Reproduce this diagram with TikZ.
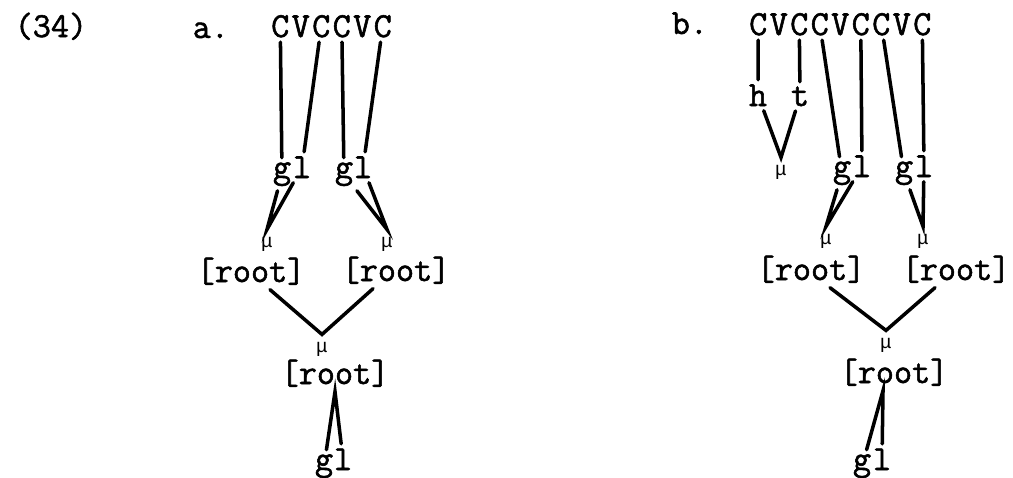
\documentclass[tikz,border=0pt]{standalone}
\usepackage{fontspec}
\newfontfamily\twfont[FakeBold=1.6]{Latin Modern Mono}
\newfontfamily\mufont{Liberation Mono}
\usetikzlibrary{positioning}
\begin{document}
\begin{tikzpicture}[x=0.02cm, y=-0.02cm,
  seg/.style={inner sep=2.5pt, anchor=base, font=\twfont\fontsize{20}{22}\selectfont},
  mora/.style={inner sep=4pt, anchor=base, font=\mufont\fontsize{11}{13}\selectfont},
  lnk/.style={line width=2pt, line cap=round}]
  \useasboundingbox (0,0) rectangle (1013,477);
  \node[seg, anchor=base west] (ex) at (10,37) {(34)};
  \node[seg, anchor=base west] (labA) at (188,38) {a.};
  \node[seg, anchor=base west] (labB) at (667,34) {b.};
  \foreach \ch [count=\i] in {C,V,C,C,V,C} \node[seg] (a\i) at ({259.75+20.5*\i},37) {\ch};
  \foreach \ch [count=\i] in {C,V,C,C,V,C,C,V,C} \node[seg] (b\i) at ({737.75+20.5*\i},35) {\ch};
  \node[seg] (gA1) at (282,178) {g};
  \node[seg] (lA1) at (302,178) {l};
  \node[seg] (gA2) at (344,178) {g};
  \node[seg] (lA2) at (363,178) {l};
  \node[mora] (muA1) at (267,247) {μ};
  \node[mora] (muA2) at (387,247) {μ};
  \node[seg] (rootA1) at (251,282) {[root]};
  \node[seg] (rootA2) at (396,281) {[root]};
  \node[mora] (muA3) at (322,352) {μ};
  \node[seg] (rootA3) at (335,384) {[root]};
  \node[seg] (gA3) at (324,470) {g};
  \node[seg] (lA3) at (343,470) {l};
  \node[seg] (hB) at (758,106) {h};
  \node[seg] (tB) at (800,106) {t};
  \node[mora] (muB1) at (781,175) {μ};
  \node[seg] (gB1) at (842,177) {g};
  \node[seg] (lB1) at (862,177) {l};
  \node[seg] (gB2) at (904,177) {g};
  \node[seg] (lB2) at (924,177) {l};
  \node[mora] (muB2) at (826,244) {μ};
  \node[mora] (muB3) at (923,244) {μ};
  \node[seg] (rootB1) at (811,280) {[root]};
  \node[seg] (rootB2) at (956,280) {[root]};
  \node[mora] (muB4) at (886,348) {μ};
  \node[seg] (rootB3) at (894,383) {[root]};
  \node[seg] (gB3) at (862,470) {g};
  \node[seg] (lB3) at (882,470) {l};
  \foreach \a/\b in {a1/gA1, a3/lA1, a4/gA2, a6/lA2, b1/hB, b3/tB, b4/gB1, b6/lB1, b7/gB2, b9/lB2}
    \draw[lnk] (\a) -- (\b);
  \foreach \g/\l/\m in {gA1/lA1/muA1, gA2/lA2/muA2, hB/tB/muB1, gB1/lB1/muB2, gB2/lB2/muB3}
    \draw[lnk] (\g) -- (\m.north) -- (\l);
  \draw[lnk] ([xshift=0.38cm]rootA1.south) -- (muA3.north) -- ([xshift=-0.46cm]rootA2.south);
  \draw[lnk] (gA3) -- (rootA3.south) -- (lA3);
  \draw[lnk] ([xshift=0.38cm]rootB1.south) -- (muB4.north) -- ([xshift=-0.42cm]rootB2.south);
  \draw[lnk] (gB3) -- ([xshift=-0.22cm]rootB3.south) -- (lB3);
\end{tikzpicture}
\end{document}
